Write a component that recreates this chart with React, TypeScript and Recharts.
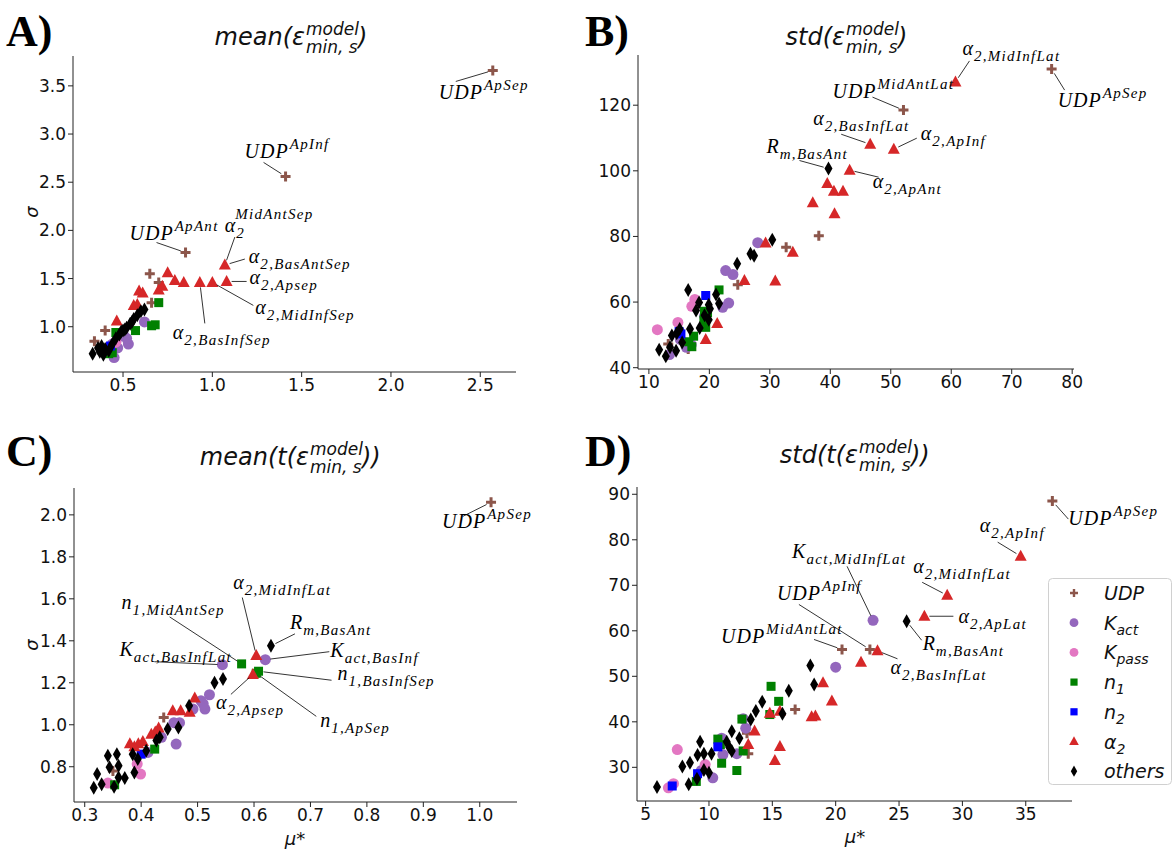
import React from "react";
import { ScatterChart, Scatter, XAxis, YAxis, ReferenceDot } from "recharts";

type Pt = [number, number];

// ---------- A) mean(eps) ----------
const aUdp: Pt[] = [[2.57, 3.66], [1.41, 2.56], [0.85, 1.77], [0.65, 1.55], [0.7, 1.46], [0.66, 1.25], [0.4, 0.96], [0.34, 0.85]];
const aKact: Pt[] = [[0.62, 1.05], [0.53, 0.82], [0.5, 0.93], [0.45, 0.68], [0.44, 0.82], [0.52, 0.88], [0.48, 0.9], [0.47, 0.78]];
const aKpass: Pt[] = [[0.42, 0.78], [0.46, 0.84]];
const aN1: Pt[] = [[0.7, 1.25], [0.68, 1.02], [0.66, 1.01], [0.57, 0.96], [0.46, 0.94], [0.39, 0.75], [0.42, 0.72], [0.44, 0.73]];
const aN2: Pt[] = [[0.43, 0.8]];
const aAlpha: Pt[] = [[1.07, 1.64], [1.08, 1.47], [1.0, 1.46], [0.93, 1.46], [0.84, 1.46], [0.79, 1.48], [0.75, 1.56], [0.72, 1.42], [0.7, 1.38], [0.61, 1.35], [0.59, 1.37], [0.58, 1.23], [0.56, 1.22], [0.465, 1.06]];
const aOthers: Pt[] = [[0.33, 0.72], [0.36, 0.78], [0.37, 0.74], [0.38, 0.8], [0.39, 0.71], [0.4, 0.77], [0.42, 0.75], [0.44, 0.82], [0.46, 0.88], [0.48, 0.92], [0.49, 0.95], [0.5, 0.96], [0.51, 0.97], [0.52, 0.99], [0.54, 1.03], [0.55, 1.05], [0.56, 1.08], [0.58, 1.12], [0.6, 1.16], [0.62, 1.18]];

// ---------- B) std(eps) ----------
const bUdp: Pt[] = [[76.6, 131], [52.1, 118.5], [38.1, 80.2], [32.7, 76.7], [24.7, 65.3], [13.2, 47.2], [16.5, 45.7], [15.5, 48.5]];
const bKact: Pt[] = [[28.0, 78.1], [22.7, 69.6], [23.9, 68.4], [23.2, 59.7], [22.2, 58.4], [19.2, 55.7], [16.2, 46.2], [13.4, 44.0], [15.2, 48.6], [17.0, 47.0]];
const bKpass: Pt[] = [[11.4, 51.6], [14.8, 53.8], [17.6, 60.8], [17.1, 58.7]];
const bN1: Pt[] = [[21.6, 63.7], [19.2, 57.2], [19.7, 56.8], [19.4, 52.3], [17.4, 49.6], [16.6, 47.9], [17.1, 46.4], [19.1, 54.5]];
const bN2: Pt[] = [[19.4, 62.0], [15.3, 50.3], [15.0, 51.0]];
const bAlpha: Pt[] = [[60.7, 127.1], [46.6, 108.1], [50.5, 106.6], [43.2, 100.2], [39.5, 96.1], [40.6, 93.8], [42.1, 93.8], [37.1, 90.3], [40.7, 86.9], [33.8, 75.2], [29.3, 78.0], [25.8, 66.6], [30.9, 66.4], [21.3, 53.5], [19.4, 48.6]];
const bOthers: Pt[] = [[39.7, 100.7], [30.4, 79.0], [26.8, 74.7], [27.4, 74.1], [24.6, 71.7], [16.5, 63.7], [18.3, 59.9], [19.9, 59.2], [21.1, 62.3], [21.6, 59.6], [17.8, 57.4], [19.9, 54.6], [18.4, 52.1], [16.8, 51.8], [15.1, 51.8], [13.8, 49.8], [15.5, 47.7], [14.5, 45.2], [13.5, 46.2], [11.7, 45.5], [12.8, 43.5], [14.6, 50.5], [19.2, 56.0], [20.1, 58.0]];

// ---------- C) mean(t(eps)) ----------
const cUdp: Pt[] = [[1.02, 2.06], [0.44, 1.035], [0.35, 0.78]];
const cKact: Pt[] = [[0.62, 1.31], [0.544, 1.286], [0.521, 1.143], [0.506, 1.114], [0.51, 1.1], [0.513, 1.075], [0.492, 1.075], [0.468, 1.01], [0.458, 1.01], [0.462, 0.908], [0.436, 0.94], [0.412, 0.868]];
const cKpass: Pt[] = [[0.341, 0.722], [0.399, 0.765], [0.393, 0.813]];
const cN1: Pt[] = [[0.578, 1.29], [0.608, 1.255], [0.604, 1.245], [0.424, 0.884], [0.353, 0.714]];
const cN2: Pt[] = [[0.4, 0.86]];
const cAlpha: Pt[] = [[0.604, 1.33], [0.598, 1.24], [0.495, 1.127], [0.486, 1.06], [0.47, 1.067], [0.456, 1.067], [0.431, 0.984], [0.425, 0.965], [0.418, 0.955], [0.403, 0.92], [0.395, 0.91], [0.38, 0.91], [0.388, 0.895]];
const cOthers: Pt[] = [[0.63, 1.376], [0.545, 1.218], [0.53, 1.2], [0.485, 1.09], [0.466, 0.987], [0.447, 0.98], [0.433, 0.94], [0.427, 0.925], [0.409, 0.876], [0.394, 0.837], [0.385, 0.86], [0.388, 0.773], [0.371, 0.746], [0.36, 0.805], [0.357, 0.86], [0.341, 0.852], [0.344, 0.797], [0.36, 0.749], [0.322, 0.765], [0.33, 0.717], [0.316, 0.7], [0.352, 0.705]];

// ---------- D) std(t(eps)) ----------
const dUdp: Pt[] = [[37.1, 88.5], [22.7, 55.9], [20.5, 55.9], [16.8, 42.7], [13.1, 33.0], [13.0, 37.5]];
const dKact: Pt[] = [[22.95, 62.3], [20.0, 52.0], [12.7, 40.7], [12.9, 38.6], [11.0, 36.4], [11.1, 32.8], [12.2, 33.0], [10.3, 27.7], [9.4, 29.3]];
const dKpass: Pt[] = [[7.5, 33.9], [7.2, 26.4], [6.8, 25.5], [9.7, 30.6]];
const dN1: Pt[] = [[14.9, 47.8], [15.5, 44.5], [14.8, 41.6], [12.6, 40.6], [10.7, 36.2], [11.0, 30.9], [12.2, 29.3], [12.7, 33.6], [9.0, 26.9], [10.9, 35.0]];
const dN2: Pt[] = [[10.7, 34.5], [9.1, 28.6], [7.1, 25.9]];
const dAlpha: Pt[] = [[34.6, 76.4], [28.8, 67.8], [27.0, 63.2], [23.3, 55.6], [22.0, 53.1], [19.0, 48.6], [19.7, 44.6], [18.1, 41.1], [18.4, 41.3], [14.8, 41.9], [15.6, 42.3], [15.6, 34.6], [15.2, 31.5], [13.6, 38.0], [13.1, 35.0]];
const dOthers: Pt[] = [[25.6, 62.1], [18.0, 52.4], [18.3, 48.2], [16.3, 46.8], [14.2, 44.4], [13.7, 42.4], [15.8, 41.8], [13.3, 40.5], [12.4, 36.4], [11.8, 37.9], [11.4, 35.6], [11.6, 34.4], [10.2, 33.0], [9.6, 33.0], [9.3, 35.6], [9.1, 32.7], [8.5, 31.0], [7.9, 30.2], [9.6, 29.4], [10.0, 28.8], [9.05, 27.5], [8.4, 26.3], [5.9, 25.7], [11.8, 33.6]];

// tick values
const aXTicks = [0.5, 1.0, 1.5, 2.0, 2.5];
const aYTicks = [1.0, 1.5, 2.0, 2.5, 3.0, 3.5];
const bXTicks = [10, 20, 30, 40, 50, 60, 70, 80];
const bYTicks = [40, 60, 80, 100, 120];
const cXTicks = [0.3, 0.4, 0.5, 0.6, 0.7, 0.8, 0.9, 1.0];
const cYTicks = [0.8, 1.0, 1.2, 1.4, 1.6, 1.8, 2.0];
const dXTicks = [5, 10, 15, 20, 25, 30, 35];
const dYTicks = [30, 40, 50, 60, 70, 80, 90];

// annotations: point in data units, text / leader offsets in px (like "offset points")
type Note = { x: number; y: number; base: string; sub?: string; sup?: string; tx: number; ty: number; lx: number; ly: number };

const aNotes: Note[] = [
  { x: 2.57, y: 3.66, base: "UDP", sup: "ApSep", tx: -54, ty: 29, lx: -37, ly: 11 },
  { x: 1.41, y: 2.56, base: "UDP", sup: "ApInf", tx: -41, ty: -18, lx: -22, ly: -14 },
  { x: 0.85, y: 1.77, base: "UDP", sup: "ApAnt", tx: -56, ty: -13, lx: -29, ly: -10 },
  { x: 1.07, y: 1.64, base: "α", sub: "2", sup: "MidAntSep", tx: 0, ty: -33, lx: 10, ly: -28 },
  { x: 1.07, y: 1.64, base: "α", sub: "2,BasAntSep", tx: 24, ty: -2, lx: 20, ly: -6 },
  { x: 1.08, y: 1.47, base: "α", sub: "2,Apsep", tx: 23, ty: 3, lx: 20, ly: 0 },
  { x: 1.0, y: 1.46, base: "α", sub: "2,MidInfSep", tx: 43, ty: 32, lx: 41, ly: 23 },
  { x: 0.93, y: 1.46, base: "α", sub: "2,BasInfSep", tx: -27, ty: 57, lx: 5, ly: 41 },
];
const bNotes: Note[] = [
  { x: 60.7, y: 127.1, base: "α", sub: "2,MidInfLat", tx: 7, ty: -27, lx: 14, ly: -21 },
  { x: 76.6, y: 131, base: "UDP", sup: "ApSep", tx: 6, ty: 38, lx: 13, ly: 21 },
  { x: 52.1, y: 118.5, base: "UDP", sup: "MidAntLat", tx: -71, ty: -12, lx: -31, ly: -13 },
  { x: 46.6, y: 108.1, base: "α", sub: "2,BasInfLat", tx: -57, ty: -19, lx: -29, ly: -10 },
  { x: 50.5, y: 106.6, base: "α", sub: "2,ApInf", tx: 27, ty: -9, lx: 23, ly: -11 },
  { x: 39.7, y: 100.7, base: "R", sub: "m,BasAnt", tx: -62, ty: -16, lx: -29, ly: -8 },
  { x: 43.2, y: 100.2, base: "α", sub: "2,ApAnt", tx: 23, ty: 18, lx: 29, ly: 7 },
];
const cNotes: Note[] = [
  { x: 1.02, y: 2.06, base: "UDP", sup: "ApSep", tx: -49, ty: 26, lx: -28, ly: 14 },
  { x: 0.604, y: 1.33, base: "α", sub: "2,MidInfLat", tx: -23, ty: -66, lx: -14, ly: -58 },
  { x: 0.578, y: 1.29, base: "n", sub: "1,MidAntSep", tx: -120, ty: -55, lx: -72, ly: -47 },
  { x: 0.63, y: 1.376, base: "R", sub: "m,BasAnt", tx: 19, ty: -17, lx: 24, ly: -12 },
  { x: 0.62, y: 1.31, base: "K", sub: "act,BasInf", tx: 65, ty: -3, lx: 64, ly: -8 },
  { x: 0.608, y: 1.255, base: "n", sub: "1,BasInfSep", tx: 79, ty: 9, lx: 73, ly: 9 },
  { x: 0.604, y: 1.245, base: "n", sub: "1,ApSep", tx: 64, ty: 54, lx: 60, ly: 43 },
  { x: 0.598, y: 1.24, base: "α", sub: "2,Apsep", tx: -37, ty: 35, lx: -22, ly: 20 },
  { x: 0.544, y: 1.286, base: "K", sub: "act,BasInfLat", tx: -103, ty: -9, lx: -68, ly: -3 },
];
const dNotes: Note[] = [
  { x: 37.1, y: 88.5, base: "UDP", sup: "ApSep", tx: 16, ty: 24, lx: 16, ly: 18 },
  { x: 34.6, y: 76.4, base: "α", sub: "2,ApInf", tx: -41, ty: -24, lx: -23, ly: -14 },
  { x: 22.95, y: 62.3, base: "K", sub: "act,MidInfLat", tx: -81, ty: -62, lx: -26, ly: -54 },
  { x: 28.8, y: 67.8, base: "α", sub: "2,MidInfLat", tx: -34, ty: -22, lx: -25, ly: -13 },
  { x: 27.0, y: 63.2, base: "α", sub: "2,ApLat", tx: 34, ty: 7, lx: 29, ly: 0 },
  { x: 25.6, y: 62.1, base: "R", sub: "m,BasAnt", tx: 16, ty: 29, lx: 15, ly: 19 },
  { x: 22.7, y: 55.9, base: "UDP", sup: "ApInf", tx: -93, ty: -49, lx: -71, ly: -45 },
  { x: 20.5, y: 55.9, base: "UDP", sup: "MidAntLat", tx: -121, ty: -6, lx: -28, ly: -10 },
  { x: 23.3, y: 55.6, base: "α", sub: "2,BasInfLat", tx: 13, ty: 23, lx: 20, ly: 8 },
];

const GROUPS = [
  { name: "UDP", sub: "", color: "#8c564b", kind: "plus" },
  { name: "K", sub: "act", color: "#9467bd", kind: "circle" },
  { name: "K", sub: "pass", color: "#e377c2", kind: "circle" },
  { name: "n", sub: "1", color: "#008000", kind: "square" },
  { name: "n", sub: "2", color: "#0000ff", kind: "square" },
  { name: "α", sub: "2", color: "#d62728", kind: "triangle" },
  { name: "others", sub: "", color: "#000000", kind: "diamond" },
];

const W = 1175;
const H = 856;
const XAXIS_H = 30;
const TICK_FONT = { fontSize: 17, fill: "#111", fontFamily: "DejaVu Sans" };

const Marker = ({ kind, cx, cy, color, s = 1 }: any) => {
  if (cx == null || cy == null) return null;
  switch (kind) {
    case "plus":
      return <path d={`M${cx - 5 * s},${cy}H${cx + 5 * s}M${cx},${cy - 5 * s}V${cy + 5 * s}`} stroke={color} strokeWidth={3 * s} />;
    case "circle":
      return <circle cx={cx} cy={cy} r={5.5 * s} fill={color} />;
    case "square":
      return <rect x={cx - 4.5 * s} y={cy - 4.5 * s} width={9 * s} height={9 * s} fill={color} />;
    case "triangle":
      return <path d={`M${cx},${cy - 6.5 * s}L${cx + 6 * s},${cy + 4.5 * s}L${cx - 6 * s},${cy + 4.5 * s}Z`} fill={color} />;
    default:
      return <path d={`M${cx},${cy - 7 * s}L${cx + 4 * s},${cy}L${cx},${cy + 7 * s}L${cx - 4 * s},${cy}Z`} fill={color} />;
  }
};

const MathText = ({ x, y, base, sub, sup }: any) => {
  const stacked = sub && sup;
  return (
    <text x={x} y={y} fontFamily="Liberation Serif, serif" fontStyle="italic" fontSize={20} fill="#000" letterSpacing={1}>
      {base}
      {sub && (
        <tspan fontSize={15} dy={6} letterSpacing={1.3}>
          {sub}
        </tspan>
      )}
      {sup && (
        <tspan fontSize={15} dx={stacked ? -10 : 1} dy={stacked ? -19 : -9} letterSpacing={1.3}>
          {sup}
        </tspan>
      )}
    </text>
  );
};

const NoteShape = ({ cx, cy, note }: any) => {
  if (cx == null || cy == null) return null;
  const len = Math.hypot(note.lx, note.ly) || 1;
  const sx = cx + (note.lx / len) * 5;
  const sy = cy + (note.ly / len) * 5;
  return (
    <g>
      <line x1={sx} y1={sy} x2={cx + note.lx} y2={cy + note.ly} stroke="#000" strokeWidth={0.8} />
      <MathText x={cx + note.tx} y={cy + note.ty} base={note.base} sub={note.sub} sup={note.sup} />
    </g>
  );
};

const Panel = ({ rect, xDomain, yDomain, xTicks, yTicks, xFmt, yFmt, sets, notes }: any) => (
  <div style={{ position: "absolute", left: 0, top: 0 }}>
    <ScatterChart
      width={W}
      height={H}
      margin={{ top: rect.top, right: W - rect.right, bottom: H - rect.bottom - XAXIS_H, left: 0 }}
    >
      <XAxis
        type="number"
        dataKey="x"
        domain={xDomain}
        ticks={xTicks}
        interval={0}
        allowDataOverflow
        height={XAXIS_H}
        tick={TICK_FONT}
        tickSize={5}
        tickFormatter={xFmt}
        stroke="#222"
      />
      <YAxis
        type="number"
        dataKey="y"
        domain={yDomain}
        ticks={yTicks}
        interval={0}
        allowDataOverflow
        width={rect.left}
        tick={TICK_FONT}
        tickSize={5}
        tickFormatter={yFmt}
        stroke="#222"
      />
      {sets.map((pts: Pt[], i: number) => (
        <Scatter
          key={i}
          name={GROUPS[i].name + GROUPS[i].sub}
          data={pts.map(([x, y]) => ({ x, y }))}
          isAnimationActive={false}
          shape={(p: any) => <Marker kind={GROUPS[i].kind} color={GROUPS[i].color} cx={p.cx} cy={p.cy} />}
        />
      ))}
      {notes.map((n: Note, i: number) => (
        <ReferenceDot key={`n${i}`} x={n.x} y={n.y} r={1} ifOverflow="visible" shape={(p: any) => <NoteShape cx={p.cx} cy={p.cy} note={n} />} />
      ))}
    </ScatterChart>
  </div>
);

const fmt1 = (v: number) => v.toFixed(1);
const fmt0 = (v: number) => String(v);

const Title = ({ sx, y, pre, post }: any) => (
  <g fontFamily="DejaVu Sans" fontStyle="italic" fill="#111">
    <text x={sx} y={y} fontSize={24} textAnchor="end">{pre}</text>
    <text x={sx + 1} y={y - 10} fontSize={17}>model</text>
    <text x={sx + 1} y={y + 8} fontSize={17}>min, s</text>
    <text x={sx + 53} y={y} fontSize={24}>{post}</text>
  </g>
);

const Overlay = () => (
  <svg width={W} height={H} style={{ position: "absolute", left: 0, top: 0, pointerEvents: "none" }}>
    <g fontFamily="Liberation Serif, serif" fontWeight="bold" fontSize={44} fill="#000">
      <text x={6} y={46}>A)</text>
      <text x={585} y={46}>B)</text>
      <text x={6} y={466}>C)</text>
      <text x={585} y={466}>D)</text>
    </g>
    <Title sx={305} y={45} pre="mean(ε" post=")" />
    <Title sx={845} y={45} pre="std(ε" post=")" />
    <Title sx={309} y={465} pre="mean(t(ε" post="))" />
    <Title sx={858} y={463} pre="std(t(ε" post="))" />
    <g fontFamily="DejaVu Sans" fontStyle="italic" fontSize={18} fill="#111">
      <text x={38} y={212} transform="rotate(-90 38 212)" textAnchor="middle">σ</text>
      <text x={38} y={645} transform="rotate(-90 38 645)" textAnchor="middle">σ</text>
      <text x={295} y={845} textAnchor="middle">μ*</text>
      <text x={855} y={843} textAnchor="middle">μ*</text>
    </g>
    <rect x={1048.5} y={578.5} width={123} height={206} rx={4} fill="#fff" fillOpacity={0.85} stroke="#d0d0d0" />
    {GROUPS.map((g, i) => {
      const yy = 593 + i * 29.7;
      return (
        <g key={i}>
          <Marker kind={g.kind} color={g.color} cx={1074} cy={yy} s={0.8} />
          <text x={1104} y={yy + 7} fontFamily="DejaVu Sans" fontStyle="italic" fontSize={19} fill="#111">
            {g.name}
            {g.sub && <tspan fontSize={14} dy={5}>{g.sub}</tspan>}
          </text>
        </g>
      );
    })}
  </svg>
);

export default function App() {
  return (
    <div style={{ position: "absolute", left: 0, top: 0, width: W, height: H, background: "#fff" }}>
      <Panel
        rect={{ left: 73, right: 516, top: 56, bottom: 372 }}
        xDomain={[0.22, 2.7]}
        yDomain={[0.53, 3.81]}
        xTicks={aXTicks}
        yTicks={aYTicks}
        xFmt={fmt1}
        yFmt={fmt1}
        sets={[aUdp, aKact, aKpass, aN1, aN2, aAlpha, aOthers]}
        notes={aNotes}
      />
      <Panel
        rect={{ left: 638, right: 1074, top: 55, bottom: 369 }}
        xDomain={[8.2, 80.3]}
        yDomain={[39.6, 135.3]}
        xTicks={bXTicks}
        yTicks={bYTicks}
        xFmt={fmt0}
        yFmt={fmt0}
        sets={[bUdp, bKact, bKpass, bN1, bN2, bAlpha, bOthers]}
        notes={bNotes}
      />
      <Panel
        rect={{ left: 74, right: 517, top: 488, bottom: 802 }}
        xDomain={[0.281, 1.066]}
        yDomain={[0.632, 2.128]}
        xTicks={cXTicks}
        yTicks={cYTicks}
        xFmt={fmt1}
        yFmt={fmt1}
        sets={[cUdp, cKact, cKpass, cN1, cN2, cAlpha, cOthers]}
        notes={cNotes}
      />
      <Panel
        rect={{ left: 637, right: 1072, top: 487, bottom: 801 }}
        xDomain={[4.32, 38.65]}
        yDomain={[22.6, 91.6]}
        xTicks={dXTicks}
        yTicks={dYTicks}
        xFmt={fmt0}
        yFmt={fmt0}
        sets={[dUdp, dKact, dKpass, dN1, dN2, dAlpha, dOthers]}
        notes={dNotes}
      />
      <Overlay />
    </div>
  );
}
